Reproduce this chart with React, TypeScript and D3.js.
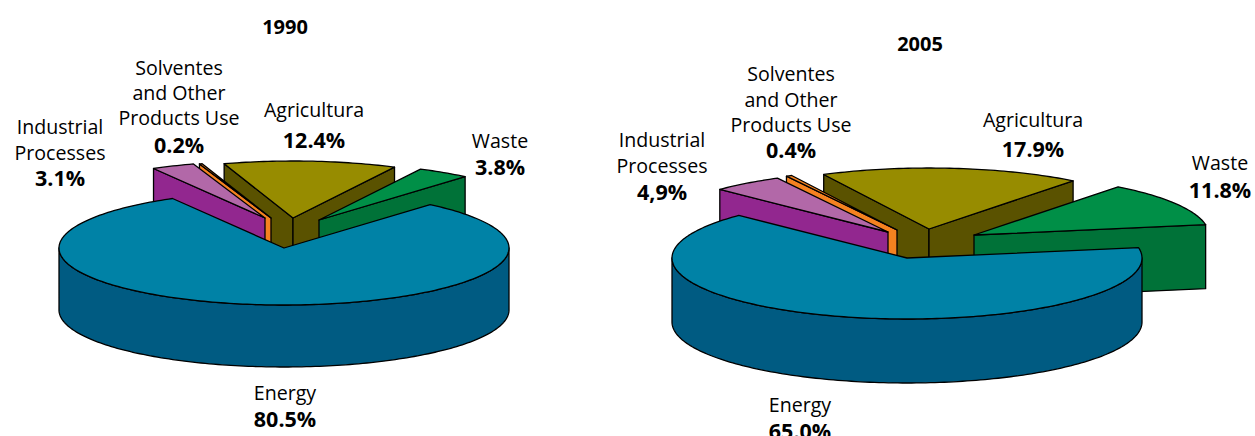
import React from "react";
import * as d3 from "d3";

// Emission shares by sector; slices run clockwise in this order.
const sectors = ["Energy", "Industrial", "Solventes", "Agricultura", "Waste"];
const values1990 = [80.5, 3.1, 0.2, 12.4, 3.8];
const values2005 = [65.0, 4.9, 0.4, 17.9, 11.8];
const valueText1990 = ["80.5%", "3.1%", "0.2%", "12.4%", "3.8%"];
const valueText2005 = ["65.0%", "4,9%", "0.4%", "17.9%", "11.8%"];
const nameLines: string[][] = [
  ["Energy"],
  ["Industrial", "Processes"],
  ["Solventes", "and Other", "Products Use"],
  ["Agricultura"],
  ["Waste"],
];

// Back-to-front painting order (indices into the sector list).
const paintOrder = [3, 4, 2, 1, 0];

const topColors = ["#0082a6", "#b268a8", "#f58220", "#978c00", "#008f47"];
const sideColors = ["#005b82", "#92278f", "#f58220", "#5a5200", "#007238"];

type PieSpec = {
  title: string;
  titleAt: [number, number];
  values: number[];
  valueText: string[];
  cx: number;
  cy: number;
  rx: number;
  ry: number;
  depth: number;
  startDeg: number;
  explode: [number, number][];
  labelAt: { x: number; ys: number[] }[];
};

const pies: PieSpec[] = [
  {
    title: "1990",
    titleAt: [285, 26],
    values: values1990,
    valueText: valueText1990,
    cx: 284,
    cy: 248,
    rx: 225,
    ry: 57,
    depth: 62,
    startDeg: 40.5,
    explode: [[0, 0], [-19, -30], [-13, -30], [9, -30], [35, -28]],
    labelAt: [
      { x: 285, ys: [392, 418] },
      { x: 60, ys: [126, 152, 177] },
      { x: 179, ys: [67, 92, 117, 144] },
      { x: 314, ys: [109, 139] },
      { x: 500, ys: [140, 166] },
    ],
  },
  {
    title: "2005",
    titleAt: [920, 43],
    values: values2005,
    valueText: valueText2005,
    cx: 907,
    cy: 258,
    rx: 235,
    ry: 61,
    depth: 64,
    startDeg: 80.3,
    explode: [[0, 0], [-19, -26], [-10, -28], [22, -29], [67, -23]],
    labelAt: [
      { x: 800, ys: [404, 430] },
      { x: 662, ys: [139, 165, 191] },
      { x: 791, ys: [73, 99, 124, 149] },
      { x: 1033, ys: [119, 148] },
      { x: 1220, ys: [162, 189] },
    ],
  },
];

const HALF_TURN = Math.PI;

function Pie3D({ spec }: { spec: PieSpec }) {
  const arcs = d3
    .pie<number>()
    .sort(null)
    .startAngle((spec.startDeg * Math.PI) / 180)
    .endAngle((spec.startDeg * Math.PI) / 180 + 2 * Math.PI)(spec.values);

  const line = d3.line<[number, number]>().curve(d3.curveLinear);

  // Oblique projection: angle is clockwise from north, on a squashed circle.
  const rim = (ox: number, oy: number, a: number, drop = 0): [number, number] => [
    ox + spec.rx * Math.sin(a),
    oy - spec.ry * Math.cos(a) + drop,
  ];
  const arcPoints = (ox: number, oy: number, a0: number, a1: number, drop = 0) => {
    const steps = Math.max(2, Math.ceil(Math.abs(a1 - a0) / 0.02));
    return d3.range(steps + 1).map((i) => rim(ox, oy, a0 + ((a1 - a0) * i) / steps, drop));
  };

  return (
    <g stroke="#000" strokeWidth={1.3} strokeLinejoin="round">
      {paintOrder.map((idx) => {
        const slice = arcs[idx];
        const [dx, dy] = spec.explode[idx];
        const ox = spec.cx + dx;
        const oy = spec.cy + dy;
        const a0 = slice.startAngle;
        const a1 = slice.endAngle;
        const apex: [number, number] = [ox, oy];
        const apexLow: [number, number] = [ox, oy + spec.depth];

        const faces: [number, number][][] = [];
        // Radial cut faces turned towards the viewer.
        if (Math.sin(a0) < 0) {
          const p = rim(ox, oy, a0);
          faces.push([apex, p, [p[0], p[1] + spec.depth], apexLow]);
        }
        if (Math.sin(a1) > 0) {
          const p = rim(ox, oy, a1);
          faces.push([apex, p, [p[0], p[1] + spec.depth], apexLow]);
        }
        // Outer wall, only along the near half of the rim.
        const w0 = Math.max(a0, HALF_TURN / 2);
        const w1 = Math.min(a1, (3 * HALF_TURN) / 2);
        if (w1 > w0) {
          faces.push([
            ...arcPoints(ox, oy, w0, w1),
            ...arcPoints(ox, oy, w1, w0, spec.depth),
          ]);
        }
        const top: [number, number][] = [apex, ...arcPoints(ox, oy, a0, a1)];

        return (
          <g key={sectors[idx]}>
            {faces.map((f, i) => (
              <path key={i} d={`${line(f)}Z`} fill={sideColors[idx]} />
            ))}
            <path d={`${line(top)}Z`} fill={topColors[idx]} />
          </g>
        );
      })}
    </g>
  );
}

function Labels({ spec }: { spec: PieSpec }) {
  return (
    <g fontFamily="'Open Sans', sans-serif" fontSize={19.6} textAnchor="middle" fill="#000">
      <text
        x={spec.titleAt[0]}
        y={spec.titleAt[1]}
        dominantBaseline="central"
        fontWeight={700}
        fontSize={20}
      >
        {spec.title}
      </text>
      {spec.labelAt.map((lab, i) => {
        const lines = [...nameLines[i], spec.valueText[i]];
        return lines.map((t, j) => {
          const isValue = j === lines.length - 1;
          return (
            <text
              key={`${i}-${j}`}
              x={lab.x}
              y={lab.ys[j]}
              dominantBaseline="central"
              fontWeight={isValue ? 700 : 400}
              fontSize={isValue ? 21.5 : undefined}
            >
              {t}
            </text>
          );
        });
      })}
    </g>
  );
}

export default function App() {
  return (
    <svg
      width={1255}
      height={436}
      viewBox="0 0 1255 436"
      style={{ position: "fixed", left: 0, top: 0, background: "#fff" }}
    >
      {pies.map((p) => (
        <g key={p.title}>
          <Pie3D spec={p} />
          <Labels spec={p} />
        </g>
      ))}
    </svg>
  );
}
